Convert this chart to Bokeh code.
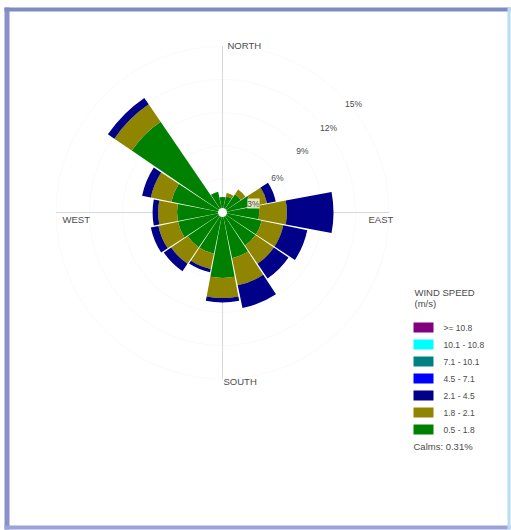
import math
from bokeh.plotting import figure
from bokeh.models import Range1d, Label
from bokeh.embed import file_html
from bokeh.resources import INLINE
from bokeh.core.properties import value

# Wind rose: frequency (%) per direction sector and speed class
directions = ["N", "NNE", "NE", "ENE", "E", "ESE", "SE", "SSE",
              "S", "SSW", "SW", "WSW", "W", "WNW", "NW", "NNW"]
speed_05_18 = [1.4, 1.5, 2.0, 2.7, 3.3, 3.6, 3.6, 4.2, 5.9, 3.8, 3.8, 4.1, 4.1, 4.7, 9.9, 1.9]
speed_18_21 = [0.0, 0.3, 0.5, 1.4, 2.5, 2.0, 2.0, 2.5, 1.8, 1.4, 1.8, 1.8, 1.7, 1.9, 1.9, 0.0]
speed_21_45 = [0.0, 0.0, 0.0, 0.8, 4.2, 2.2, 1.6, 2.1, 0.4, 0.3, 0.8, 0.7, 0.5, 0.8, 0.7, 0.0]
speed_45_71 = [0.0] * 16
speed_71_101 = [0.0] * 16
speed_101_108 = [0.0] * 16
speed_108_up = [0.0] * 16

class_labels = [">= 10.8", "10.1 - 10.8", "7.1 - 10.1", "4.5 - 7.1",
                "2.1 - 4.5", "1.8 - 2.1", "0.5 - 1.8"]
class_colors = ["#800080", "#00ffff", "#008080", "#0000ff",
                "#000088", "#8f8500", "#008000"]
ring_values = [3, 6, 9, 12, 15]
calms_pct = 0.31

W, H = 511, 530
S = 11.1          # pixels per percent
CX, CY = 222, 212  # rose centre in pixels


def X(px):
    return (px - CX) / S


def Y(py):
    return (CY - py) / S


p = figure(width=W, height=H, output_backend="svg", toolbar_location=None,
           x_range=Range1d(X(0), X(W)), y_range=Range1d(Y(H), Y(0)),
           min_border=0, background_fill_color="white",
           border_fill_color="white")
p.axis.visible = False
p.grid.visible = False
p.outline_line_color = None

FONT = value("Liberation Sans")
TXT = "#4a4a4a"

# barely visible rings and compass cross
for r in ring_values:
    p.circle(x=0, y=0, radius=r, fill_color=None, line_color="#fafafa", line_width=1)
p.segment(x0=[-15, 0], y0=[0, -15], x1=[15, 0], y1=[0, 15],
          line_color="#d8d8d8", line_width=1)

# stacked sectors, innermost class first
stack = [speed_05_18, speed_18_21, speed_21_45, speed_45_71,
         speed_71_101, speed_101_108, speed_108_up]
stack_colors = list(reversed(class_colors))
half = 10.7
inner = [0.0] * 16
for vals, col in zip(stack, stack_colors):
    outer = [a + b for a, b in zip(inner, vals)]
    xs, ys, ir, orr, sa, ea = [], [], [], [], [], []
    for i in range(16):
        if vals[i] <= 0:
            continue
        d = i * 22.5
        xs.append(0)
        ys.append(0)
        ir.append(inner[i])
        orr.append(outer[i])
        sa.append(math.radians(90 - d - half))
        ea.append(math.radians(90 - d + half))
    if xs:
        p.annular_wedge(x=xs, y=ys, inner_radius=ir, outer_radius=orr,
                        start_angle=sa, end_angle=ea,
                        fill_color=col, line_color=None)
    inner = outer

# calm centre
p.circle(x=0, y=0, radius=0.4, fill_color="white", line_color=None)

# compass labels
p.text(x=[X(227), X(223), X(62), X(368)], y=[Y(45), Y(381), Y(219), Y(219)],
       text=["NORTH", "SOUTH", "WEST", "EAST"], text_font=FONT,
       text_font_size="9.5px", text_color=TXT,
       text_align="left", text_baseline="middle")

# ring labels
ring_pos = [(253, 203), (277, 177), (302, 150), (328, 127), (353, 103)]
for rv, (px, py) in zip(ring_values, ring_pos):
    p.add_layout(Label(x=X(px), y=Y(py), text=f"{rv}%", text_font="Liberation Sans",
                       text_font_size="8.5px", text_color=TXT,
                       text_align="center", text_baseline="middle",
                       background_fill_color="#fbf8e0" if rv == 3 else None,
                       background_fill_alpha=0.85))

# legend
p.text(x=[X(414), X(414)], y=[Y(292), Y(303)], text=["WIND SPEED", "(m/s)"],
       text_font=FONT, text_font_size="9.5px", text_color=TXT,
       text_align="left", text_baseline="middle")
row_y = [327, 344, 361, 378, 395, 412, 429]
p.quad(left=[X(413)] * 7, right=[X(433)] * 7,
       top=[Y(y - 5) for y in row_y], bottom=[Y(y + 5) for y in row_y],
       fill_color=class_colors, line_color=None)
p.text(x=[X(443)] * 7, y=[Y(y) for y in row_y], text=class_labels,
       text_font=FONT, text_font_size="8.5px", text_color=TXT,
       text_align="left", text_baseline="middle")
p.text(x=[X(413)], y=[Y(446)], text=[f"Calms: {calms_pct:.2f}%"],
       text_font=FONT, text_font_size="9.5px", text_color=TXT,
       text_align="left", text_baseline="middle")

# window frame
p.quad(left=[X(4), X(4), X(4), X(507)], right=[X(9), X(510), X(510), X(510)],
       top=[Y(7), Y(7), Y(525), Y(7)], bottom=[Y(529), Y(11), Y(529), Y(529)],
       fill_color=["#8a90cc", "#7f8cc0", "#9aa2d6", "#b8dcf0"], line_color=None)

open("out.html", "w").write(file_html(p, INLINE))
